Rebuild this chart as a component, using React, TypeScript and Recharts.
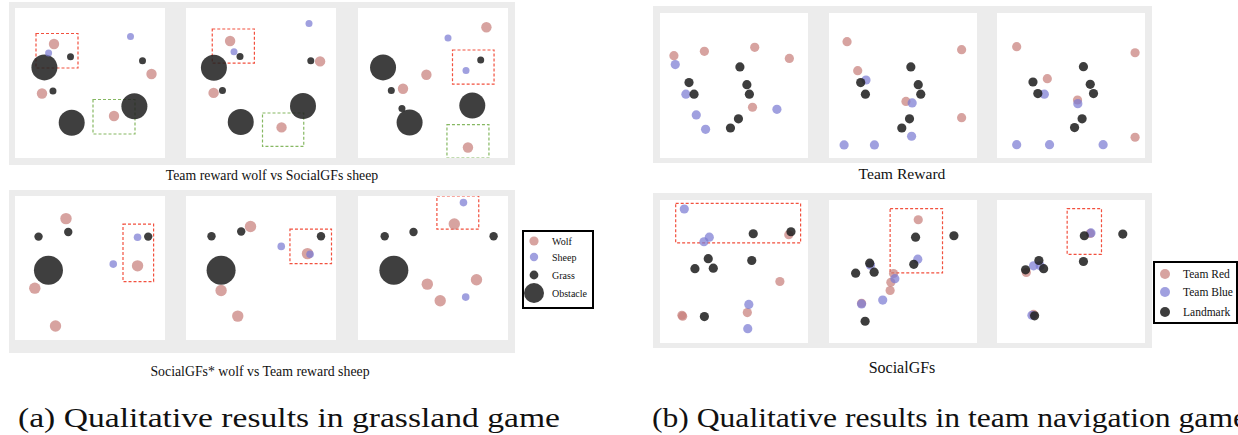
import React from 'react';
import { ScatterChart, Scatter, XAxis, YAxis, ReferenceArea } from 'recharts';

type P = { x: number; y: number };
type Box = { x1: number; y1: number; x2: number; y2: number; kind: 'red' | 'green' };

// ---------- (a) grassland game : Team reward wolf vs SocialGFs sheep ----------
const A1_WOLF: P[] = [{ x: 26, y: 24 }, { x: 18, y: 57 }, { x: 91, y: 44 }, { x: 66, y: 72 }];
const A1_SHEEP: P[] = [{ x: 22.4, y: 30 }, { x: 77, y: 19 }];
const A1_GRASS: P[] = [{ x: 37, y: 32.5 }, { x: 25.3, y: 55.3 }, { x: 85, y: 35.2 }];
const A1_OBST: P[] = [{ x: 19.6, y: 39.6 }, { x: 37.8, y: 76.5 }, { x: 79.6, y: 65.5 }];
const A1_BOX: Box[] = [{ x1: 14, y1: 17, x2: 42, y2: 40, kind: 'red' }, { x1: 52, y1: 61, x2: 80, y2: 84, kind: 'green' }];

const A2_WOLF: P[] = [{ x: 29.4, y: 22 }, { x: 18.4, y: 56.6 }, { x: 89.4, y: 35.6 }, { x: 63.7, y: 79.6 }];
const A2_SHEEP: P[] = [{ x: 32, y: 29.2 }, { x: 82, y: 10.4 }];
const A2_GRASS: P[] = [{ x: 36, y: 32.3 }, { x: 24.3, y: 55 }, { x: 83.2, y: 35.2 }];
const A2_OBST: P[] = [{ x: 18.6, y: 39.8 }, { x: 36.5, y: 76 }, { x: 78, y: 65.3 }];
const A2_BOX: Box[] = [{ x1: 17.5, y1: 14, x2: 45.6, y2: 36.7, kind: 'red' }, { x1: 51, y1: 70, x2: 78.5, y2: 92.3, kind: 'green' }];

const A3_WOLF: P[] = [{ x: 85.6, y: 12.8 }, { x: 45.6, y: 44.5 }, { x: 30, y: 53.8 }, { x: 73.3, y: 93 }];
const A3_SHEEP: P[] = [{ x: 60, y: 20 }, { x: 72, y: 41.6 }];
const A3_GRASS: P[] = [{ x: 81.8, y: 34.7 }, { x: 22.2, y: 55 }, { x: 29.3, y: 67 }];
const A3_OBST: P[] = [{ x: 16.7, y: 39.6 }, { x: 34.4, y: 76.3 }, { x: 76.2, y: 65 }];
const A3_BOX: Box[] = [{ x1: 63, y1: 28, x2: 90.7, y2: 50.7, kind: 'red' }, { x1: 59.3, y1: 77.7, x2: 87.3, y2: 100, kind: 'green' }];

// ---------- (a) grassland game : SocialGFs* wolf vs Team reward sheep ----------
const B1_WOLF: P[] = [{ x: 34, y: 15.7 }, { x: 13.2, y: 64 }, { x: 81.7, y: 48.5 }, { x: 27, y: 90.3 }];
const B1_SHEEP: P[] = [{ x: 81.7, y: 28.6 }, { x: 65.5, y: 47.3 }];
const B1_GRASS: P[] = [{ x: 15.7, y: 28.2 }, { x: 35.5, y: 25 }, { x: 88.8, y: 28.2 }];
const B1_OBST: P[] = [{ x: 22.3, y: 51.5 }];
const B1_BOX: Box[] = [{ x1: 72, y1: 19.6, x2: 92.4, y2: 59.4, kind: 'red' }];

const B2_WOLF: P[] = [{ x: 43, y: 21.2 }, { x: 81, y: 40 }, { x: 23.4, y: 65.6 }, { x: 34.5, y: 83.4 }];
const B2_SHEEP: P[] = [{ x: 63.5, y: 35 }, { x: 82.7, y: 40.4 }];
const B2_GRASS: P[] = [{ x: 17, y: 28 }, { x: 36.8, y: 24.7 }, { x: 90, y: 28 }];
const B2_OBST: P[] = [{ x: 23.4, y: 51.5 }];
const B2_BOX: Box[] = [{ x1: 69.3, y1: 23, x2: 97, y2: 47, kind: 'red' }];

const B3_WOLF: P[] = [{ x: 64.2, y: 19.4 }, { x: 46.2, y: 61.2 }, { x: 79, y: 58.2 }, { x: 54.8, y: 72.7 }];
const B3_SHEEP: P[] = [{ x: 70.3, y: 4.6 }, { x: 71.8, y: 70.2 }];
const B3_GRASS: P[] = [{ x: 17.8, y: 28 }, { x: 37, y: 25 }, { x: 90.4, y: 28 }];
const B3_OBST: P[] = [{ x: 23.9, y: 51.5 }];
const B3_BOX: Box[] = [{ x1: 52.6, y1: 0, x2: 80.5, y2: 23, kind: 'red' }];

// ---------- (b) team navigation : Team Reward ----------
const C1_RED: P[] = [{ x: 9.4, y: 29.4 }, { x: 30, y: 26.4 }, { x: 64, y: 23.7 }, { x: 87.4, y: 31.3 }, { x: 62.5, y: 65 }];
const C1_BLUE: P[] = [{ x: 10.3, y: 35.6 }, { x: 17.5, y: 56 }, { x: 24.5, y: 70.3 }, { x: 30.8, y: 80.2 }, { x: 79, y: 66.4 }];
const C1_LAND: P[] = [{ x: 54, y: 37.2 }, { x: 19.6, y: 48 }, { x: 23, y: 56 }, { x: 58.7, y: 49.4 }, { x: 60.4, y: 56 }, { x: 53, y: 73 }, { x: 47.6, y: 79.3 }];
const C1_BOX: Box[] = [];

const C2_RED: P[] = [{ x: 12.2, y: 19.8 }, { x: 19.4, y: 39.8 }, { x: 89.6, y: 25.3 }, { x: 52, y: 61 }, { x: 89.6, y: 72.2 }];
const C2_BLUE: P[] = [{ x: 25, y: 46.2 }, { x: 56.2, y: 62 }, { x: 55.8, y: 85 }, { x: 10.2, y: 91 }, { x: 30.7, y: 91 }];
const C2_LAND: P[] = [{ x: 55.3, y: 37.2 }, { x: 21.4, y: 48 }, { x: 24.6, y: 56 }, { x: 60.3, y: 49.4 }, { x: 62, y: 56 }, { x: 54.4, y: 73 }, { x: 49.2, y: 79.3 }];
const C2_BOX: Box[] = [];

const C3_RED: P[] = [{ x: 13.3, y: 23.2 }, { x: 34, y: 45.3 }, { x: 93.3, y: 27.4 }, { x: 54.4, y: 60 }, { x: 93.3, y: 85.7 }];
const C3_BLUE: P[] = [{ x: 32, y: 56 }, { x: 54.6, y: 62.5 }, { x: 13.3, y: 90.8 }, { x: 35.5, y: 90.8 }, { x: 71.7, y: 90.8 }];
const C3_LAND: P[] = [{ x: 58.4, y: 37 }, { x: 24.3, y: 47.6 }, { x: 27.6, y: 55.6 }, { x: 63, y: 49.2 }, { x: 65.2, y: 55.6 }, { x: 57.5, y: 73 }, { x: 52.4, y: 79 }];
const C3_BOX: Box[] = [];

// ---------- (b) team navigation : SocialGFs ----------
const D1_RED: P[] = [{ x: 15.3, y: 81.3 }, { x: 14.8, y: 80.6 }, { x: 87, y: 24.3 }, { x: 81, y: 57 }, { x: 59, y: 78.7 }];
const D1_BLUE: P[] = [{ x: 16.4, y: 6.3 }, { x: 33.3, y: 26 }, { x: 29.7, y: 29.2 }, { x: 60, y: 73 }, { x: 59.3, y: 90 }];
const D1_LAND: P[] = [{ x: 63, y: 23.6 }, { x: 88.5, y: 22.2 }, { x: 32.6, y: 41 }, { x: 23.6, y: 48 }, { x: 36, y: 47.7 }, { x: 62, y: 42.3 }, { x: 30, y: 81.5 }];
const D1_BOX: Box[] = [{ x1: 10.6, y1: 2.3, x2: 95, y2: 30, kind: 'red' }];

const D2_RED: P[] = [{ x: 60.3, y: 13.8 }, { x: 43.6, y: 51.4 }, { x: 41.8, y: 57.5 }, { x: 41.3, y: 63.3 }, { x: 22, y: 72.2 }];
const D2_BLUE: P[] = [{ x: 60, y: 41.4 }, { x: 28, y: 45.6 }, { x: 44.5, y: 55 }, { x: 36.3, y: 70 }, { x: 22, y: 72.7 }];
const D2_LAND: P[] = [{ x: 58.5, y: 26 }, { x: 84.4, y: 25 }, { x: 57.3, y: 45 }, { x: 27.5, y: 44.2 }, { x: 18, y: 51.2 }, { x: 30.5, y: 50.5 }, { x: 24.4, y: 84.8 }];
const D2_BOX: Box[] = [{ x1: 41.3, y1: 6, x2: 76.7, y2: 51, kind: 'red' }];

const D3_RED: P[] = [{ x: 63, y: 23.4 }, { x: 19.8, y: 50.7 }, { x: 24.7, y: 80 }];
const D3_BLUE: P[] = [{ x: 63.5, y: 23 }, { x: 24.7, y: 46 }, { x: 29.2, y: 46 }, { x: 23.6, y: 80.6 }];
const D3_LAND: P[] = [{ x: 59, y: 25 }, { x: 85, y: 23.8 }, { x: 58.4, y: 43 }, { x: 28.3, y: 42.3 }, { x: 19.3, y: 48.8 }, { x: 31.5, y: 48 }, { x: 25.4, y: 81 }];
const D3_BOX: Box[] = [{ x1: 47.4, y1: 6, x2: 70.6, y2: 38, kind: 'red' }];

// ---------- text ----------
const CAPTION_A_TOP = 'Team reward wolf vs SocialGFs sheep';
const CAPTION_A_BOTTOM = 'SocialGFs* wolf vs Team reward sheep';
const CAPTION_B_TOP = 'Team Reward';
const CAPTION_B_BOTTOM = 'SocialGFs';
const SUB_A = '(a) Qualitative results in grassland game';
const SUB_B = '(b) Qualitative results in team navigation game';
const LEGEND_A = ['Wolf', 'Sheep', 'Grass', 'Obstacle'];
const LEGEND_B = ['Team Red', 'Team Blue', 'Landmark'];

// ---------- styles ----------
const C_WOLF = '#c8807c';
const C_SHEEP = '#7c7cd2';
const C_DARK = '#222222';
const BOX_COLORS = { red: '#f2503e', green: '#86b862' };
const SERIF = "'Liberation Serif', 'Times New Roman', serif";
const GRAY = '#ececec';

type Layer = { data: P[]; fill: string; r: number; op: number };
type PanelDef = { left: number; top: number; w: number; h: number; layers: Layer[]; boxes: Box[] };

const dot = (fill: string, r: number, op: number) => (props: any) =>
  props.cx == null ? <g /> : <circle cx={props.cx} cy={props.cy} r={r} fill={fill} fillOpacity={op} />;

const grassPanel = (left: number, top: number, h: number, big: boolean, wolf: P[], sheep: P[], grass: P[], obst: P[], boxes: Box[]): PanelDef => ({
  left, top, w: 150, h, boxes,
  layers: [
    { data: obst, fill: C_DARK, r: big ? 14.5 : 13, op: 0.87 },
    { data: grass, fill: C_DARK, r: big ? 4.2 : 3.5, op: 0.87 },
    { data: wolf, fill: C_WOLF, r: big ? 5.7 : 5.2, op: 0.72 },
    { data: sheep, fill: C_SHEEP, r: big ? 3.8 : 3.5, op: 0.72 },
  ],
});

const navPanel = (left: number, top: number, h: number, red: P[], blue: P[], land: P[], boxes: Box[]): PanelDef => ({
  left, top, w: 148, h, boxes,
  layers: [
    { data: red, fill: C_WOLF, r: 4.6, op: 0.72 },
    { data: blue, fill: C_SHEEP, r: 4.6, op: 0.72 },
    { data: land, fill: C_DARK, r: 4.6, op: 0.88 },
  ],
});

const PANELS: PanelDef[] = [
  grassPanel(15, 8, 150, false, A1_WOLF, A1_SHEEP, A1_GRASS, A1_OBST, A1_BOX),
  grassPanel(186, 8, 150, false, A2_WOLF, A2_SHEEP, A2_GRASS, A2_OBST, A2_BOX),
  grassPanel(358, 8, 150, false, A3_WOLF, A3_SHEEP, A3_GRASS, A3_OBST, A3_BOX),
  grassPanel(15, 196, 144, true, B1_WOLF, B1_SHEEP, B1_GRASS, B1_OBST, B1_BOX),
  grassPanel(186, 196, 144, true, B2_WOLF, B2_SHEEP, B2_GRASS, B2_OBST, B2_BOX),
  grassPanel(358, 196, 144, true, B3_WOLF, B3_SHEEP, B3_GRASS, B3_OBST, B3_BOX),
  navPanel(660, 13, 145, C1_RED, C1_BLUE, C1_LAND, C1_BOX),
  navPanel(829, 13, 145, C2_RED, C2_BLUE, C2_LAND, C2_BOX),
  navPanel(997, 13, 145, C3_RED, C3_BLUE, C3_LAND, C3_BOX),
  navPanel(660, 200, 143, D1_RED, D1_BLUE, D1_LAND, D1_BOX),
  navPanel(829, 200, 143, D2_RED, D2_BLUE, D2_LAND, D2_BOX),
  navPanel(997, 200, 143, D3_RED, D3_BLUE, D3_LAND, D3_BOX),
];

const Panel = ({ p }: { p: PanelDef }) => (
  <div style={{ position: 'absolute', left: p.left, top: p.top, width: p.w, height: p.h, background: '#ffffff' }}>
    <ScatterChart width={p.w} height={p.h} margin={{ top: 0, right: 0, bottom: 0, left: 0 }}>
      <XAxis type="number" dataKey="x" domain={[0, 100]} hide allowDataOverflow />
      <YAxis type="number" dataKey="y" domain={[0, 100]} reversed hide allowDataOverflow />
      {p.layers.map((l, i) => (
        <Scatter key={i} data={l.data} isAnimationActive={false} shape={dot(l.fill, l.r, l.op)} />
      ))}
      {p.boxes.map((b, i) => (
        <ReferenceArea key={'b' + i} x1={b.x1} x2={b.x2} y1={b.y1} y2={b.y2} fill="none" fillOpacity={0}
          stroke={BOX_COLORS[b.kind]} strokeWidth={1.2} strokeDasharray="3 2" ifOverflow="visible" />
      ))}
    </ScatterChart>
  </div>
);

const Gray = ({ left, top, w, h }: { left: number; top: number; w: number; h: number }) => (
  <div style={{ position: 'absolute', left, top, width: w, height: h, background: GRAY }} />
);

const Caption = ({ text, cx, cy, size }: { text: string; cx: number; cy: number; size: number }) => (
  <div style={{ position: 'absolute', left: cx - 200, top: cy - size * 0.6, width: 400, textAlign: 'center', fontFamily: SERIF, fontSize: size, lineHeight: `${size * 1.2}px`, color: '#111', whiteSpace: 'nowrap' }}>
    {text}
  </div>
);

export default function App() {
  return (
    <div style={{ position: 'absolute', left: 0, top: 0, width: 1238, height: 435, overflow: 'hidden', background: '#fff' }}>
      <Gray left={9} top={2} w={506} h={163} />
      <Gray left={9} top={190} w={506} h={163} />
      <Gray left={653} top={6} w={499} h={157} />
      <Gray left={653} top={193} w={499} h={155} />
      {PANELS.map((p, i) => <Panel key={i} p={p} />)}

      <Caption text={CAPTION_A_TOP} cx={272} cy={176} size={13.8} />
      <Caption text={CAPTION_A_BOTTOM} cx={260} cy={372} size={13.8} />
      <Caption text={CAPTION_B_TOP} cx={902} cy={174} size={15.6} />
      <Caption text={CAPTION_B_BOTTOM} cx={902} cy={368} size={16} />

      {/* legend (a) */}
      <div style={{ position: 'absolute', left: 522, top: 230, width: 68, height: 75, border: '2px solid #000', background: '#fff' }}>
        <svg width={68} height={75} style={{ position: 'absolute', left: 0, top: 0 }}>
          <circle cx={10} cy={9} r={4.6} fill={C_WOLF} fillOpacity={0.72} />
          <circle cx={10} cy={25} r={4.2} fill={C_SHEEP} fillOpacity={0.72} />
          <circle cx={10} cy={43} r={4.4} fill={C_DARK} fillOpacity={0.87} />
          <circle cx={10} cy={61} r={10} fill={C_DARK} fillOpacity={0.87} />
          {LEGEND_A.map((t, i) => (
            <text key={t} x={28} y={[12.5, 28.5, 46.5, 64.5][i]} fontFamily={SERIF} fontSize={10} fill="#111">{t}</text>
          ))}
        </svg>
      </div>

      {/* legend (b) */}
      <div style={{ position: 'absolute', left: 1153, top: 261, width: 81, height: 59, border: '2px solid #000', background: '#fff' }}>
        <svg width={81} height={59} style={{ position: 'absolute', left: 0, top: 0 }}>
          <circle cx={10} cy={11} r={5} fill={C_WOLF} fillOpacity={0.72} />
          <circle cx={10} cy={29} r={5} fill={C_SHEEP} fillOpacity={0.72} />
          <circle cx={10} cy={49} r={5} fill={C_DARK} fillOpacity={0.88} />
          {LEGEND_B.map((t, i) => (
            <text key={t} x={28} y={[15, 33, 53][i]} fontFamily={SERIF} fontSize={11.5} fill="#111">{t}</text>
          ))}
        </svg>
      </div>

      {/* sub-figure captions */}
      <svg width={1300} height={50} style={{ position: 'absolute', left: 0, top: 390 }}>
        <text x={18} y={37} fontFamily={SERIF} fontSize={27} textLength={542} lengthAdjust="spacingAndGlyphs" fill="#111">{SUB_A}</text>
        <text x={652} y={37} fontFamily={SERIF} fontSize={27} textLength={595} lengthAdjust="spacingAndGlyphs" fill="#111">{SUB_B}</text>
      </svg>
    </div>
  );
}
